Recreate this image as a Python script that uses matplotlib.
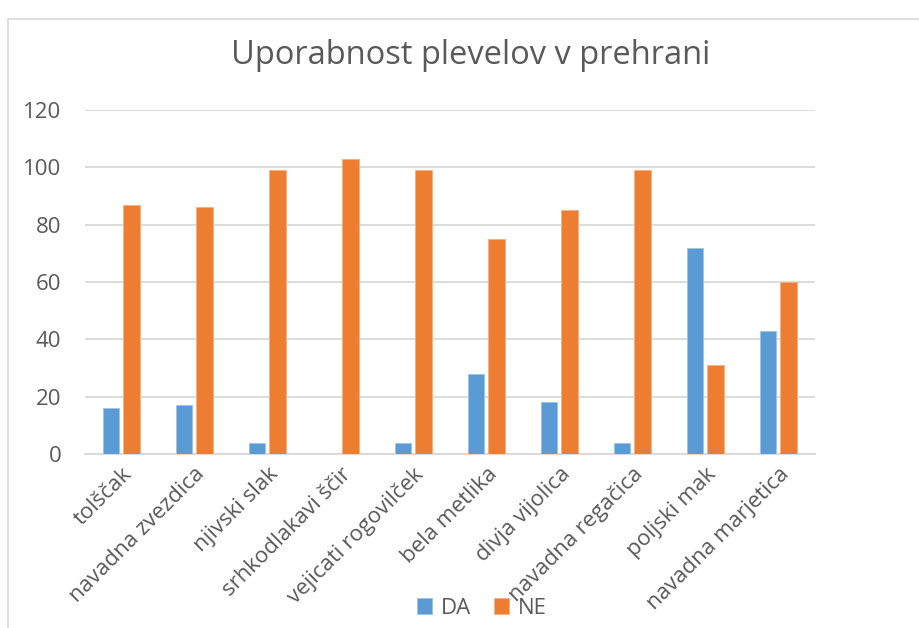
import numpy as np
import matplotlib
matplotlib.use("Agg")
import matplotlib.pyplot as plt
from matplotlib.patches import Rectangle

plt.rcParams['font.family'] = ['Open Sans', 'DejaVu Sans']

# data
categories = ['tolščak', 'navadna zvezdica', 'njivski slak', 'srhkodlakavi ščir',
              'vejicati rogovilček', 'bela metlika', 'divja vijolica',
              'navadna regačica', 'poljski mak', 'navadna marjetica']
da_values = [16, 17, 4, 0, 4, 28, 18, 4, 72, 43]
ne_values = [87, 86, 99, 103, 99, 75, 85, 99, 31, 60]
y_ticks = [0, 20, 40, 60, 80, 100, 120]

text_col = '#595959'
grid_col = '#D9D9D9'

fig = plt.figure(figsize=(9.19, 6.28), dpi=100)
ax = fig.add_axes([85 / 919, 1 - 454 / 628, 730 / 919, 344 / 628])

# chart area border (left/top visible in the screenshot)
fig.patches.append(Rectangle((8 / 919, -0.1), 1.2, 1 - 19 / 628 + 0.1,
                             transform=fig.transFigure, fill=False,
                             edgecolor=grid_col, linewidth=1.2))

x = np.arange(len(categories))
w = 0.225
ax.bar(x - 0.143, da_values, w, color='#5B9BD5', edgecolor='#9DC3E6', linewidth=0.6, label='DA', zorder=3)
ax.bar(x + 0.137, ne_values, w, color='#ED7D31', edgecolor='#F4B183', linewidth=0.6, label='NE', zorder=3)

ax.set_xlim(-0.5, len(categories) - 0.5)
ax.set_ylim(0, 120)
ax.set_yticks(y_ticks)
ax.yaxis.grid(True, color=grid_col, linewidth=1.3, zorder=0)
for s in ['top', 'right', 'left']:
    ax.spines[s].set_visible(False)
ax.spines['bottom'].set_color(grid_col)
ax.spines['bottom'].set_linewidth(1.3)
ax.tick_params(axis='both', length=0, colors=text_col)
ax.tick_params(axis='y', pad=17, labelsize=16)

ax.set_xticks(x)
ax.set_xticklabels(categories, rotation=45, ha='right', va='top',
                   rotation_mode='anchor', fontsize=16, color=text_col)
ax.tick_params(axis='x', pad=7)

fig.text(0.512, 1 - 56 / 628, 'Uporabnost plevelov v prehrani', ha='center', va='center',
         fontsize=23.5, color=text_col)

leg = fig.legend(loc='center', bbox_to_anchor=(482 / 919, 1 - 608 / 628), ncol=2,
                 frameon=False, fontsize=16, handlelength=0.7, handleheight=0.7,
                 handletextpad=0.4, columnspacing=1.0)
for t in leg.get_texts():
    t.set_color(text_col)

fig.savefig('out.png', dpi=100)
